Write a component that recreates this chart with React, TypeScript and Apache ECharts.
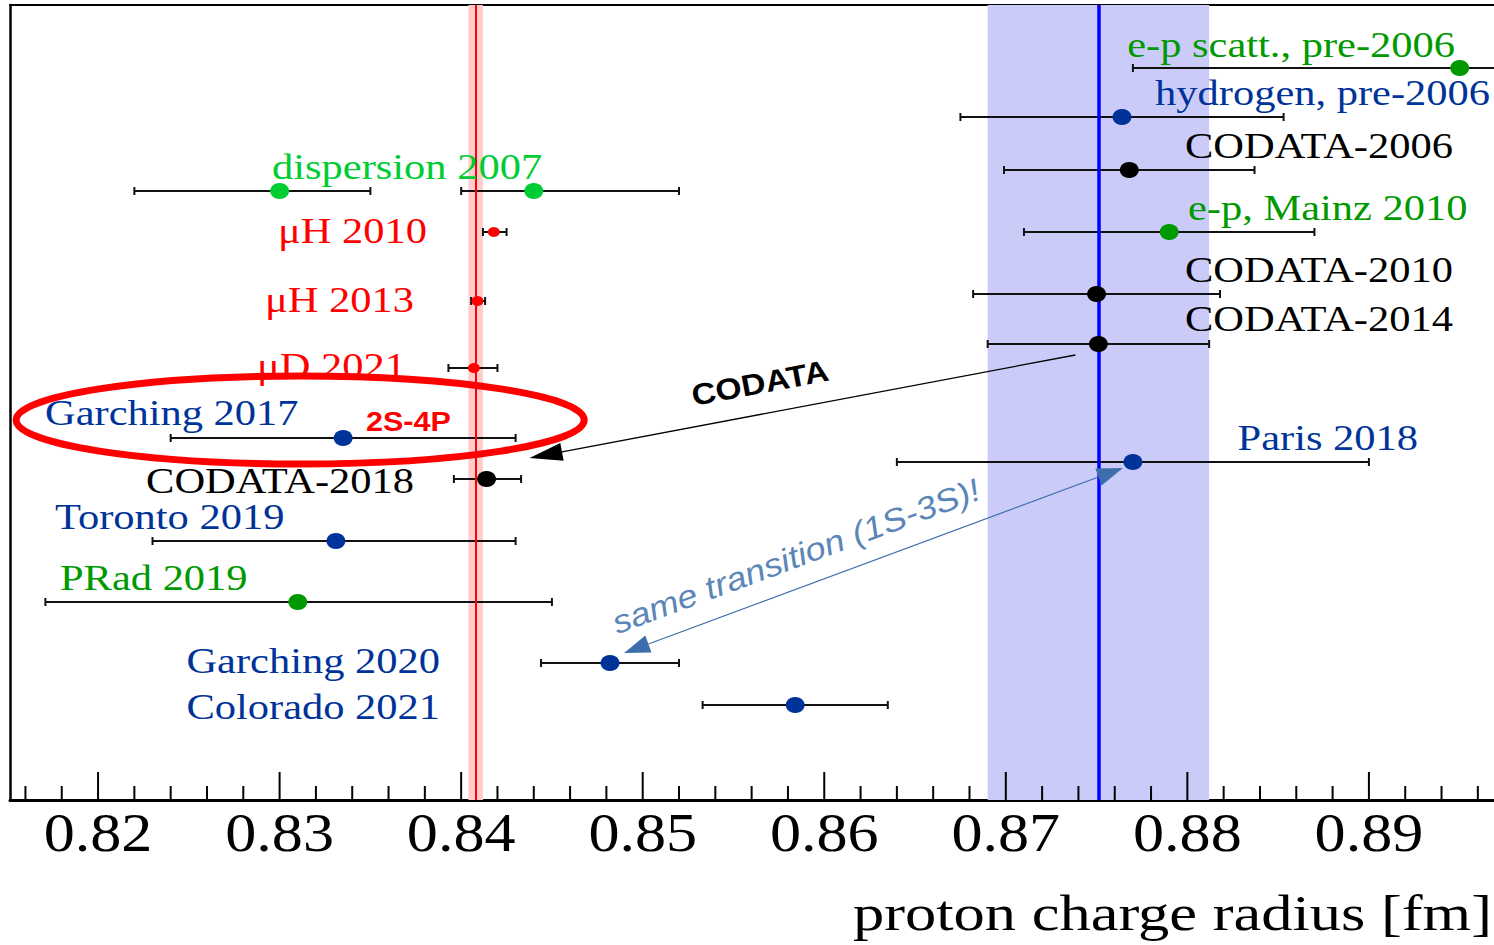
import React, { useEffect, useRef } from "react";
import * as echarts from "echarts";

// x range of the plot (fm)
const X_MIN = 0.81515;
const X_MAX = 0.89689;
// vertical layout units (rows, top = 0)
const ROW_MAX = 159;

// measurements: name, radius, lower / upper end of the error bar, row, group
const names = [
  "e-p scatt., pre-2006",
  "hydrogen, pre-2006",
  "CODATA-2006",
  "dispersion 2007",
  "dispersion 2007",
  "μH 2010",
  "e-p, Mainz 2010",
  "CODATA-2010",
  "μH 2013",
  "CODATA-2014",
  "μD 2021",
  "Garching 2017",
  "Paris 2018",
  "CODATA-2018",
  "Toronto 2019",
  "PRad 2019",
  "Garching 2020",
  "Colorado 2021",
];
const radius = [
  0.895, 0.8764, 0.8768, 0.83, 0.844, 0.8418, 0.879, 0.875, 0.8409, 0.8751,
  0.8407, 0.8335, 0.877, 0.8414, 0.8331, 0.831, 0.8482, 0.8584,
];
const lower = [
  0.877, 0.8675, 0.8699, 0.822, 0.84, 0.8412, 0.871, 0.8682, 0.84055, 0.869,
  0.8393, 0.824, 0.864, 0.8396, 0.823, 0.8171, 0.8444, 0.8533,
];
const upper = [
  0.913, 0.8853, 0.8837, 0.835, 0.852, 0.8425, 0.887, 0.8818, 0.84132, 0.8812,
  0.842, 0.843, 0.89, 0.8433, 0.843, 0.845, 0.852, 0.8635,
];
const rows = [
  12.6, 22.4, 33, 37.2, 37.2, 45.4, 45.4, 57.8, 59.2, 67.8, 72.6, 86.6, 91.4,
  94.8, 107.2, 119.4, 131.6, 140,
];
const groups = [
  "ep", "h", "cod", "disp", "disp", "mu", "ep", "cod", "mu", "cod", "mu", "h",
  "h", "cod", "h", "ep", "h", "h",
];

// reference values: muonic hydrogen and CODATA-2014
const MUONIC = { value: 0.8408, lo: 0.8404, hi: 0.8412 };
const CODATA14 = { value: 0.8751, lo: 0.869, hi: 0.8812 };

// axis ticks
const MAJOR_TICKS = [0.82, 0.83, 0.84, 0.85, 0.86, 0.87, 0.88, 0.89];
const TICK_LABELS = ["0.82", "0.83", "0.84", "0.85", "0.86", "0.87", "0.88", "0.89"];
const MINOR_TICKS = [
  0.816, 0.818, 0.822, 0.824, 0.826, 0.828, 0.832, 0.834, 0.836, 0.838, 0.842,
  0.844, 0.846, 0.848, 0.852, 0.854, 0.856, 0.858, 0.862, 0.864, 0.866, 0.868,
  0.872, 0.874, 0.876, 0.878, 0.882, 0.884, 0.886, 0.888, 0.892, 0.894, 0.896,
];

const COLORS: Record<string, string> = {
  ep: "#009900",
  disp: "#00cc33",
  h: "#003399",
  cod: "#000000",
  mu: "#ff0000",
};

const SERIF = '"Liberation Serif", "Times New Roman", serif';
const SANS = '"Liberation Sans", Arial, sans-serif';

// label placement: [index into names, x, y, align]
const LABEL_LAYOUT: [number, number, number, string][] = [
  [0, 1455, 45, "right"],
  [1, 1490, 93, "right"],
  [2, 1185, 146, "left"],
  [6, 1188, 208, "left"],
  [7, 1185, 270, "left"],
  [9, 1185, 319, "left"],
  [3, 272, 167, "left"],
  [5, 427, 231, "right"],
  [8, 414, 300, "right"],
  [10, 406, 366, "right"],
  [11, 45, 413, "left"],
  [13, 414, 481, "right"],
  [12, 1418, 438, "right"],
  [14, 55, 517, "left"],
  [15, 60, 578, "left"],
  [16, 440, 661, "right"],
  [17, 440, 707, "right"],
];

function arrowHead(tx: number, ty: number, fx: number, fy: number, len: number, half: number) {
  const dx = tx - fx;
  const dy = ty - fy;
  const d = Math.hypot(dx, dy);
  const ux = dx / d;
  const uy = dy / d;
  const bx = tx - ux * len;
  const by = ty - uy * len;
  return [
    [tx, ty],
    [bx - uy * half, by + ux * half],
    [bx + uy * half, by - ux * half],
  ];
}

function textEl(text: string, x: number, y: number, align: string, font: string, fill: string, scaleX: number, extra: any = {}) {
  return {
    type: "text",
    x,
    y,
    scaleX,
    z: 20,
    silent: true,
    ...extra,
    style: {
      text,
      x: 0,
      y: 0,
      font,
      fill,
      align,
      textAlign: align,
      verticalAlign: "middle",
      textVerticalAlign: "middle",
    },
  };
}

export default function App() {
  const ref = useRef<HTMLDivElement>(null);

  useEffect(() => {
    const el = ref.current!;
    const chart = echarts.init(el, undefined, { renderer: "svg" });

    const pointData = radius.map((r, i) => {
      const small = groups[i] === "mu";
      return {
        value: [r, rows[i]],
        symbolSize: small ? [12, 10] : [19, 16],
        itemStyle: { color: COLORS[groups[i]], opacity: 1 },
      };
    });

    const tickData = [
      ...MINOR_TICKS.map((v) => [v, 0, -1]),
      ...MAJOR_TICKS.map((v, i) => [v, 1, i]),
    ];

    const option: any = {
      animation: false,
      backgroundColor: "#ffffff",
      grid: { left: 10, right: 0, top: 5, bottom: 145, containLabel: false },
      xAxis: [
        {
          type: "value",
          min: X_MIN,
          max: X_MAX,
          position: "bottom",
          axisLine: { show: true, onZero: false, lineStyle: { color: "#000", width: 3 } },
          axisTick: { show: false },
          axisLabel: { show: false },
          splitLine: { show: false },
        },
        {
          type: "value",
          min: X_MIN,
          max: X_MAX,
          position: "top",
          axisLine: { show: true, onZero: false, lineStyle: { color: "#000", width: 2 } },
          axisTick: { show: false },
          axisLabel: { show: false },
          splitLine: { show: false },
        },
      ],
      yAxis: {
        type: "value",
        min: 0,
        max: ROW_MAX,
        inverse: true,
        axisLine: { show: true, onZero: false, lineStyle: { color: "#000", width: 2.5 } },
        axisTick: { show: false },
        axisLabel: { show: false },
        splitLine: { show: false },
      },
      series: [
        {
          // shaded uncertainty bands
          type: "scatter",
          z: 1,
          silent: true,
          symbolSize: 0,
          data: [[MUONIC.value, 0]],
          itemStyle: { opacity: 0 },
          markArea: {
            silent: true,
            label: { show: false },
            data: [
              [{ xAxis: MUONIC.lo, itemStyle: { color: "#ffcccc", opacity: 1 } }, { xAxis: MUONIC.hi }],
              [{ xAxis: CODATA14.lo, itemStyle: { color: "#cbcbf9", opacity: 1 } }, { xAxis: CODATA14.hi }],
            ],
          },
        },
        {
          // horizontal error bars with end caps
          type: "custom",
          z: 3,
          silent: true,
          clip: true,
          data: lower.map((l, i) => [l, upper[i], rows[i]]),
          encode: { x: [0, 1], y: 2 },
          renderItem: (params: any, api: any) => {
            const a = api.coord([api.value(0), api.value(2)]);
            const b = api.coord([api.value(1), api.value(2)]);
            const c = 4;
            const st = { stroke: "#111", lineWidth: 2 };
            return {
              type: "group",
              children: [
                { type: "line", shape: { x1: a[0], y1: a[1], x2: b[0], y2: b[1] }, style: st },
                { type: "line", shape: { x1: a[0], y1: a[1] - c, x2: a[0], y2: a[1] + c }, style: st },
                { type: "line", shape: { x1: b[0], y1: b[1] - c, x2: b[0], y2: b[1] + c }, style: st },
              ],
            };
          },
        },
        {
          // central reference values
          type: "scatter",
          z: 4,
          silent: true,
          symbolSize: 0,
          data: [[MUONIC.value, 0]],
          itemStyle: { opacity: 0 },
          markLine: {
            silent: true,
            precision: 6,
            symbol: ["none", "none"],
            label: { show: false },
            data: [
              { xAxis: MUONIC.value, lineStyle: { color: "#ff0000", width: 2, type: "solid", opacity: 1 } },
              { xAxis: CODATA14.value, lineStyle: { color: "#0000ff", width: 3.5, type: "solid", opacity: 1 } },
            ],
          },
        },
        {
          // measured values
          type: "scatter",
          z: 5,
          silent: true,
          symbol: "circle",
          data: pointData,
        },
        {
          // axis ticks and tick labels
          type: "custom",
          z: 6,
          silent: true,
          clip: false,
          data: tickData,
          encode: { x: 0 },
          renderItem: (params: any, api: any) => {
            const p = api.coord([api.value(0), ROW_MAX]);
            const major = api.value(1) === 1;
            const len = major ? 28 : 14;
            const children: any[] = [
              {
                type: "line",
                shape: { x1: p[0], y1: p[1], x2: p[0], y2: p[1] - len },
                style: { stroke: "#000", lineWidth: 2 },
              },
            ];
            if (major) {
              const idx = api.value(2);
              children.push({
                type: "text",
                x: p[0],
                y: p[1] + 33,
                scaleX: 1.15,
                style: {
                  text: TICK_LABELS[idx],
                  x: 0,
                  y: 0,
                  font: `54px ${SERIF}`,
                  fill: "#000",
                  align: "center",
                  textAlign: "center",
                  verticalAlign: "middle",
                  textVerticalAlign: "middle",
                },
              });
            }
            return { type: "group", children };
          },
        },
      ],
    };

    chart.setOption(option);

    const px = (i: number) =>
      chart.convertToPixel({ seriesIndex: 3 }, [radius[i], rows[i]]) as number[];

    const labels = LABEL_LAYOUT.map(([i, x, y, align]) =>
      textEl(names[i], x, y, align, `36px ${SERIF}`, COLORS[groups[i]], 1.18)
    );

    // CODATA arrow: from the CODATA-2014 point towards the 2S-4P result
    const c14 = px(9);
    const c18 = px(13);
    const codFrom = [c14[0] - 23, c14[1] + 11];
    const codTip = [c18[0] + 43, c18[1] - 21];
    const codHead = arrowHead(codTip[0], codTip[1], codFrom[0], codFrom[1], 33, 9);
    const codBase = [
      (codHead[1][0] + codHead[2][0]) / 2,
      (codHead[1][1] + codHead[2][1]) / 2,
    ];

    // double arrow between Paris 2018 and Garching 2020 (same 1S-3S transition)
    const paris = px(12);
    const g20 = px(16);
    const tA = [paris[0] - 10, paris[1] + 6];
    const tB = [g20[0] + 14, g20[1] - 10];
    const headA = arrowHead(tA[0], tA[1], tB[0], tB[1], 26, 9);
    const headB = arrowHead(tB[0], tB[1], tA[0], tA[1], 26, 9);
    const baseA = [(headA[1][0] + headA[2][0]) / 2, (headA[1][1] + headA[2][1]) / 2];
    const baseB = [(headB[1][0] + headB[2][0]) / 2, (headB[1][1] + headB[2][1]) / 2];
    const steel = "#3d6eab";

    const g17 = px(11);

    const graphic: any[] = [
      ...labels,
      // axis title
      textEl("proton charge radius [fm]", 1492, 913, "right", `50px ${SERIF}`, "#000", 1.25),
      // 2S-4P tag
      textEl("2S-4P", 366, 421, "left", `bold 28px ${SANS}`, "#ff0000", 1.09),
      // highlight ellipse around the 2S-4P measurement
      {
        type: "ellipse",
        z: 25,
        silent: true,
        shape: { cx: g17[0] - 43, cy: g17[1] - 18, rx: 284, ry: 44 },
        style: { fill: "none", stroke: "#ff0000", lineWidth: 7 },
      },
      // CODATA arrow
      {
        type: "line",
        z: 25,
        silent: true,
        shape: { x1: codFrom[0], y1: codFrom[1], x2: codBase[0], y2: codBase[1] },
        style: { stroke: "#000", lineWidth: 1.3 },
      },
      {
        type: "polygon",
        z: 25,
        silent: true,
        shape: { points: codHead },
        style: { fill: "#000" },
      },
      textEl("CODATA", 760, 383, "center", `bold 30px ${SANS}`, "#000", 1.12, {
        rotation: -Math.atan2(codFrom[1] - codTip[1], codFrom[0] - codTip[0]),
      }),
      // same-transition double arrow
      {
        type: "line",
        z: 25,
        silent: true,
        shape: { x1: baseA[0], y1: baseA[1], x2: baseB[0], y2: baseB[1] },
        style: { stroke: steel, lineWidth: 1.2 },
      },
      { type: "polygon", z: 25, silent: true, shape: { points: headA }, style: { fill: steel } },
      { type: "polygon", z: 25, silent: true, shape: { points: headB }, style: { fill: steel } },
      textEl("same transition (1S-3S)!", 796, 556, "center", `italic 32px ${SANS}`, "#5b86b7", 1.13, {
        rotation: Math.atan2(tB[1] - tA[1], tA[0] - tB[0]),
      }),
    ];

    chart.setOption({ graphic });

    return () => chart.dispose();
  }, []);

  return (
    <div
      ref={ref}
      style={{ position: "fixed", left: 0, top: 0, width: 1494, height: 945, background: "#fff" }}
    />
  );
}
